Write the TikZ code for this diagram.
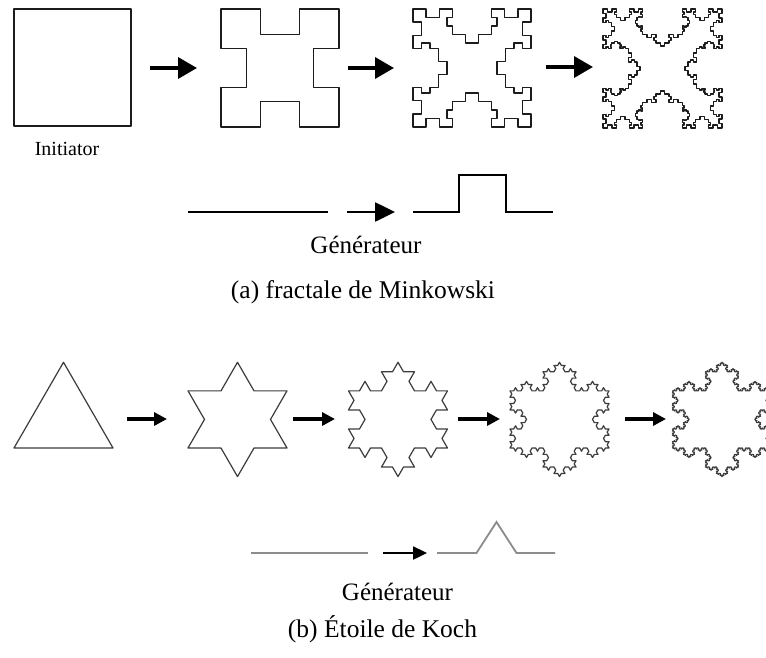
\documentclass[tikz,border=0pt]{standalone}
\usepackage{fontspec}
\setmainfont{Liberation Serif}
\usetikzlibrary{arrows.meta}

\makeatletter
% Depth of the Minkowski indentation, relative to one third of a segment
\def\minkfactor{0.645}

% Minkowski segment from (#2,#3) to (#4,#5), refined #1 times;
% the middle third is pushed to the right of the direction of travel
\newcommand\minkpiece[5]{%
  \ifnum#1=0\relax
    \pgfpathlineto{\pgfqpoint{#4pt}{#5pt}}%
  \else
    \pgfmathsetmacro\mp@dx{((#4)-(#2))/3}%
    \pgfmathsetmacro\mp@dy{((#5)-(#3))/3}%
    \pgfmathsetmacro\mp@nx{\minkfactor*(\mp@dy)}%
    \pgfmathsetmacro\mp@ny{-\minkfactor*(\mp@dx)}%
    \pgfmathsetmacro\mp@ax{(#2)+(\mp@dx)}%
    \pgfmathsetmacro\mp@ay{(#3)+(\mp@dy)}%
    \pgfmathsetmacro\mp@bx{(#2)+2*(\mp@dx)}%
    \pgfmathsetmacro\mp@by{(#3)+2*(\mp@dy)}%
    \pgfmathsetmacro\mp@cx{(\mp@ax)+(\mp@nx)}%
    \pgfmathsetmacro\mp@cy{(\mp@ay)+(\mp@ny)}%
    \pgfmathsetmacro\mp@ex{(\mp@bx)+(\mp@nx)}%
    \pgfmathsetmacro\mp@ey{(\mp@by)+(\mp@ny)}%
    \edef\mp@next{%
      \noexpand\minkpiece{\the\numexpr#1-1\relax}{#2}{#3}{\mp@ax}{\mp@ay}%
      \noexpand\minkpiece{\the\numexpr#1-1\relax}{\mp@ax}{\mp@ay}{\mp@cx}{\mp@cy}%
      \noexpand\minkpiece{\the\numexpr#1-1\relax}{\mp@cx}{\mp@cy}{\mp@ex}{\mp@ey}%
      \noexpand\minkpiece{\the\numexpr#1-1\relax}{\mp@ex}{\mp@ey}{\mp@bx}{\mp@by}%
      \noexpand\minkpiece{\the\numexpr#1-1\relax}{\mp@bx}{\mp@by}{#4}{#5}}%
    \mp@next
  \fi}

% Koch segment from (#2,#3) to (#4,#5), refined #1 times;
% the spike points to the left of the direction of travel
\newcommand\kochpiece[5]{%
  \ifnum#1=0\relax
    \pgfpathlineto{\pgfqpoint{#4pt}{#5pt}}%
  \else
    \pgfmathsetmacro\kp@dx{((#4)-(#2))/3}%
    \pgfmathsetmacro\kp@dy{((#5)-(#3))/3}%
    \pgfmathsetmacro\kp@ax{(#2)+(\kp@dx)}%
    \pgfmathsetmacro\kp@ay{(#3)+(\kp@dy)}%
    \pgfmathsetmacro\kp@bx{(#2)+2*(\kp@dx)}%
    \pgfmathsetmacro\kp@by{(#3)+2*(\kp@dy)}%
    \pgfmathsetmacro\kp@cx{(\kp@ax)+0.5*(\kp@dx)-0.8660254*(\kp@dy)}%
    \pgfmathsetmacro\kp@cy{(\kp@ay)+0.8660254*(\kp@dx)+0.5*(\kp@dy)}%
    \edef\kp@next{%
      \noexpand\kochpiece{\the\numexpr#1-1\relax}{#2}{#3}{\kp@ax}{\kp@ay}%
      \noexpand\kochpiece{\the\numexpr#1-1\relax}{\kp@ax}{\kp@ay}{\kp@cx}{\kp@cy}%
      \noexpand\kochpiece{\the\numexpr#1-1\relax}{\kp@cx}{\kp@cy}{\kp@bx}{\kp@by}%
      \noexpand\kochpiece{\the\numexpr#1-1\relax}{\kp@bx}{\kp@by}{#4}{#5}}%
    \kp@next
  \fi}

% Minkowski island: depth, left x, top y (canvas pt), side
\newcommand\minkisland[4]{%
  \pgfmathsetmacro\mi@r{(#2)+(#4)}%
  \pgfmathsetmacro\mi@b{(#3)-(#4)}%
  \pgfpathmoveto{\pgfqpoint{#2pt}{#3pt}}%
  \minkpiece{#1}{#2}{#3}{\mi@r}{#3}%
  \pgfmathsetmacro\mi@r{(#2)+(#4)}%
  \pgfmathsetmacro\mi@b{(#3)-(#4)}%
  \minkpiece{#1}{\mi@r}{#3}{\mi@r}{\mi@b}%
  \pgfmathsetmacro\mi@r{(#2)+(#4)}%
  \pgfmathsetmacro\mi@b{(#3)-(#4)}%
  \minkpiece{#1}{\mi@r}{\mi@b}{#2}{\mi@b}%
  \pgfmathsetmacro\mi@b{(#3)-(#4)}%
  \minkpiece{#1}{#2}{\mi@b}{#2}{#3}%
  \pgfpathclose
  \pgfusepath{stroke}}

% Koch snowflake: depth, centre x, base y (canvas pt), side
\newcommand\kochflake[4]{%
  \pgfmathsetmacro\kf@l{(#2)-(#4)/2}%
  \pgfmathsetmacro\kf@r{(#2)+(#4)/2}%
  \pgfmathsetmacro\kf@t{(#3)+0.8660254*(#4)}%
  \edef\kf@next{%
    \noexpand\pgfpathmoveto{\noexpand\pgfqpoint{\kf@l pt}{#3pt}}%
    \noexpand\kochpiece{#1}{\kf@l}{#3}{#2}{\kf@t}%
    \noexpand\kochpiece{#1}{#2}{\kf@t}{\kf@r}{#3}%
    \noexpand\kochpiece{#1}{\kf@r}{#3}{\kf@l}{#3}}%
  \kf@next
  \pgfpathclose
  \pgfusepath{stroke}}
\makeatother

\definecolor{minkink}{HTML}{1C1C1C}
\definecolor{kochink}{HTML}{3C3C3C}
\definecolor{kochgen}{HTML}{8C8C8C}

\tikzset{
  minkline/.style={color=minkink, line width=1.4pt, line join=round, line cap=round},
  kochline/.style={color=kochink, line width=1.2pt, line join=round, line cap=round},
  mgenline/.style={draw=black, line width=2.2pt, line join=miter},
  kgenline/.style={draw=kochgen, line width=1.8pt, line join=miter},
  bigarrow/.style={draw=black, line width=3.6pt, -{Triangle[length=19pt,width=21pt]}},
  kocharrow/.style={draw=black, line width=3.2pt, -{Triangle[length=13pt,width=13pt]}},
  mgenarrow/.style={draw=black, line width=2.6pt, -{Triangle[length=20pt,width=19pt]}},
  kgenarrow/.style={draw=black, line width=2.4pt, -{Triangle[length=14pt,width=13pt]}},
  caption/.style={font=\fontsize{25.5}{28}\selectfont, inner sep=0pt, anchor=base},
  genlabel/.style={font=\fontsize{25}{28}\selectfont, inner sep=0pt, anchor=base},
  smalllabel/.style={font=\fontsize{20}{23}\selectfont, inner sep=0pt, anchor=base},
}

\begin{document}
\begin{tikzpicture}[x=1pt, y=-1pt]
  \useasboundingbox (0,0) rectangle (766,657);
  \fill[white] (0,0) rectangle (766,657);
  \clip (0,0) rectangle (766,657);

  % ---------------- (a) Minkowski island ----------------
  % (island arguments are canvas points: y grows upwards)
  \begin{scope}[minkline]
    \minkisland{0}{14}{-9}{117}
    \minkisland{1}{221}{-9}{118}
    \minkisland{2}{413}{-9}{118}
    \minkisland{3}{603}{-9}{119}
  \end{scope}

  \coordinate (ma1s) at (150,68);  \coordinate (ma1e) at (197,68);
  \coordinate (ma2s) at (348,68);  \coordinate (ma2e) at (394,68);
  \coordinate (ma3s) at (546,67);  \coordinate (ma3e) at (593,67);
  \draw[bigarrow] (ma1s) -- (ma1e);
  \draw[bigarrow] (ma2s) -- (ma2e);
  \draw[bigarrow] (ma3s) -- (ma3e);

  \node[smalllabel] (initiator) at (67,155) {Initiator};

  % generator of the Minkowski island
  \draw[mgenline] (188,212) -- (328,212);
  \coordinate (mgs) at (347,212); \coordinate (mge) at (395,212);
  \draw[mgenarrow] (mgs) -- (mge);
  \draw[mgenline] (413,212) -- (459,212) -- (459,175) -- (506,175) -- (506,212) -- (553,212);
  \node[genlabel] (mgen) at (366,253) {Générateur};
  \node[caption] (mcap) at (363,298) {(a) fractale de Minkowski};

  % ---------------- (b) Koch snowflake ----------------
  \begin{scope}[kochline]
    \kochflake{0}{63.5}{-448}{99}
    \kochflake{1}{237.5}{-448}{99}
    \kochflake{2}{398}{-448}{99}
    \kochflake{3}{559.5}{-448}{99}
    \kochflake{4}{722}{-448}{99}
  \end{scope}

  \coordinate (ka1s) at (127,419); \coordinate (ka1e) at (167,419);
  \coordinate (ka2s) at (293,419); \coordinate (ka2e) at (335,419);
  \coordinate (ka3s) at (458,419); \coordinate (ka3e) at (500,419);
  \coordinate (ka4s) at (625,419); \coordinate (ka4e) at (666,419);
  \draw[kocharrow] (ka1s) -- (ka1e);
  \draw[kocharrow] (ka2s) -- (ka2e);
  \draw[kocharrow] (ka3s) -- (ka3e);
  \draw[kocharrow] (ka4s) -- (ka4e);

  % generator of the Koch curve
  \draw[kgenline] (251,553) -- (368,553);
  \coordinate (kgs) at (383,553); \coordinate (kge) at (427,553);
  \draw[kgenarrow] (kgs) -- (kge);
  \draw[kgenline] (437,553) -- (476.5,553) -- (496.5,522) -- (516.5,553) -- (555,553);
  \node[genlabel] (kgen) at (397.5,600) {Générateur};
  \node[caption] (kcap) at (382.5,637) {(b) Étoile de Koch};
\end{tikzpicture}
\end{document}
